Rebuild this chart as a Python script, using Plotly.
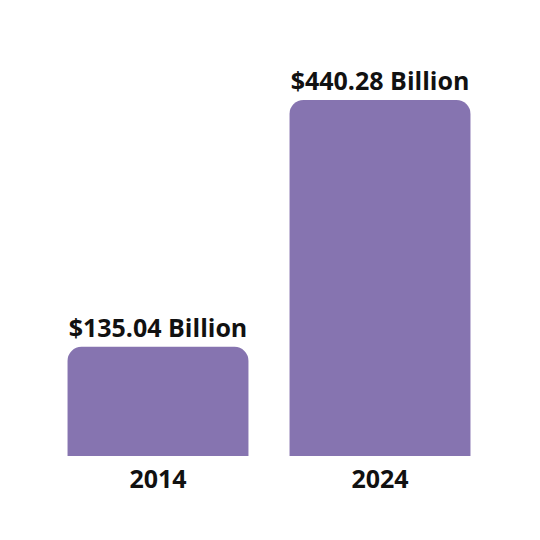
import plotly.graph_objects as go

years = ["2014", "2024"]
values = [135.04, 440.28]
labels = ["$135.04 Billion", "$440.28 Billion"]

fig = go.Figure(go.Bar(
    x=years, y=values, text=labels, textposition="outside",
    textfont=dict(family="Open Sans", size=25, color="#111111", weight="bold"),
    marker=dict(color="#8674B0", line=dict(width=0)),
    cliponaxis=False,
))
fig.update_layout(
    width=540, height=540,
    margin=dict(l=39, r=57, t=40, b=92),
    plot_bgcolor="white", paper_bgcolor="white",
    bargap=0.185, barcornerradius=14, showlegend=False,
    xaxis=dict(showgrid=False, showline=False, ticks="", ticklabelstandoff=6,
               tickfont=dict(family="Open Sans", size=25, color="#111111", weight="bold")),
    yaxis=dict(visible=False, range=[0, 504.6]),
)
fig.write_html("out.html")
